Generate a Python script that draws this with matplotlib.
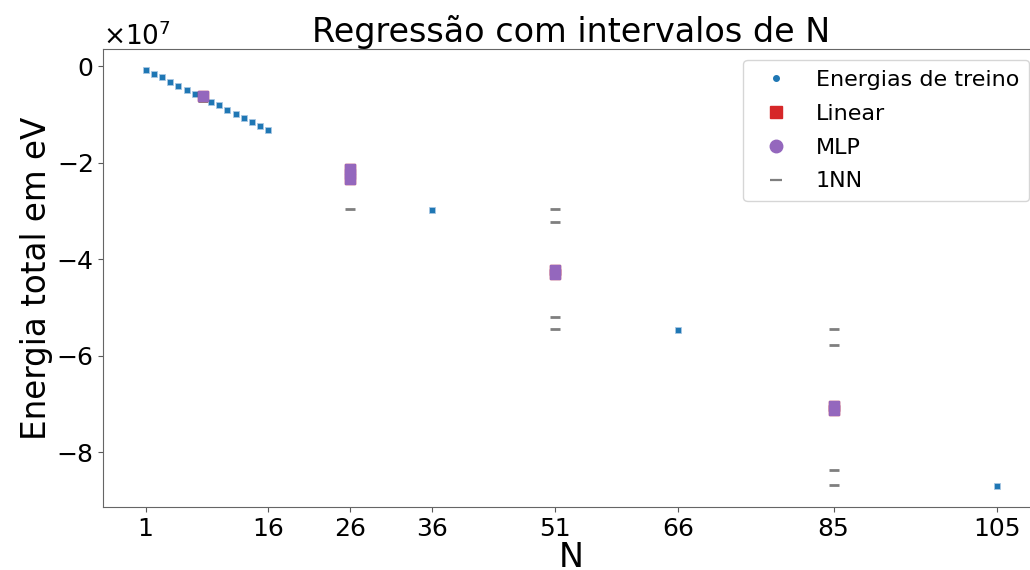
import matplotlib
matplotlib.use("Agg")
import matplotlib.pyplot as plt
from matplotlib.lines import Line2D
from matplotlib.ticker import ScalarFormatter

# ---- data (energies in eV) ----
train_N = [1, 2, 3, 4, 5, 6, 7, 9, 10, 11, 12, 13, 14, 15, 16, 36, 66, 105]
train_E = [-0.075e7, -0.162e7, -0.235e7, -0.325e7, -0.412e7, -0.492e7, -0.580e7,
           -0.745e7, -0.815e7, -0.910e7, -0.995e7, -1.070e7, -1.160e7, -1.237e7,
           -1.325e7, -2.98e7, -5.46e7, -8.70e7]

linear_N = [8, 26, 26, 51, 51, 85, 85]
linear_E = [-0.63e7, -2.14e7, -2.33e7, -4.23e7, -4.31e7, -7.04e7, -7.12e7]

mlp_N = [8, 26, 26, 26, 51, 51, 85, 85]
mlp_E = [-0.63e7, -2.14e7, -2.23e7, -2.33e7, -4.23e7, -4.31e7, -7.04e7, -7.12e7]

nn_N = [8, 8, 26, 51, 51, 51, 51, 85, 85, 85, 85]
nn_E = [-0.58e7, -0.72e7, -2.97e7, -2.96e7, -3.22e7, -5.20e7, -5.45e7,
        -5.45e7, -5.78e7, -8.36e7, -8.68e7]

xticks = [1, 16, 26, 36, 51, 66, 85, 105]

fig = plt.figure(figsize=(10.3, 5.7), dpi=100)
ax = fig.add_axes([103/1030, 63/570, (1040-103)/1030, 458/570])

c_train = '#1f77b4'
c_lin = '#d62728'
c_mlp = '#9467bd'
c_nn = '#7f7f7f'

ax.plot(train_N, train_E, linestyle='none', marker='s', ms=4.6, color=c_train,
        mec='#a9c8e3', mew=0.6, zorder=3)
ax.plot(linear_N, linear_E, linestyle='none', marker='s', ms=7.4, color=c_lin, zorder=4)
ax.plot(mlp_N, mlp_E, linestyle='none', marker='s', ms=7.0, color=c_mlp, zorder=5)
ax.plot(nn_N, nn_E, linestyle='none', marker='_', ms=7, mew=2, color=c_nn, zorder=2)

ax.set_xlim(-4.2, 110.2)
ax.set_ylim(-9.13e7, 0.352e7)
ax.set_xticks(xticks)
ax.set_xticklabels([str(v) for v in xticks])
fmt = ScalarFormatter(useMathText=True)
ax.yaxis.set_major_formatter(fmt)
ax.tick_params(labelsize=18, length=3.5, width=0.8, color='0.35')
ax.yaxis.get_offset_text().set_fontsize(19)
for s in ax.spines.values():
    s.set_color('0.4')

ax.set_title('Regressão com intervalos de N', fontsize=24, pad=3)
ax.set_xlabel('N', fontsize=24, labelpad=0)
ax.set_ylabel('Energia total em eV', fontsize=23.5, labelpad=2)

handles = [
    Line2D([], [], linestyle='none', marker='o', ms=4, color=c_train),
    Line2D([], [], linestyle='none', marker='s', ms=9, color=c_lin),
    Line2D([], [], linestyle='none', marker='o', ms=9, color=c_mlp),
    Line2D([], [], linestyle='none', marker='_', ms=8, mew=1.6, color=c_nn),
]
labels = ['Energias de treino', 'Linear', 'MLP', '1NN']
fig.legend(handles, labels, loc='upper right', bbox_to_anchor=(1029/1030, 510/570),
           fontsize=16, frameon=True, borderaxespad=0, labelspacing=0.62,
           borderpad=0.45)

fig.savefig('out.png', dpi=100)
